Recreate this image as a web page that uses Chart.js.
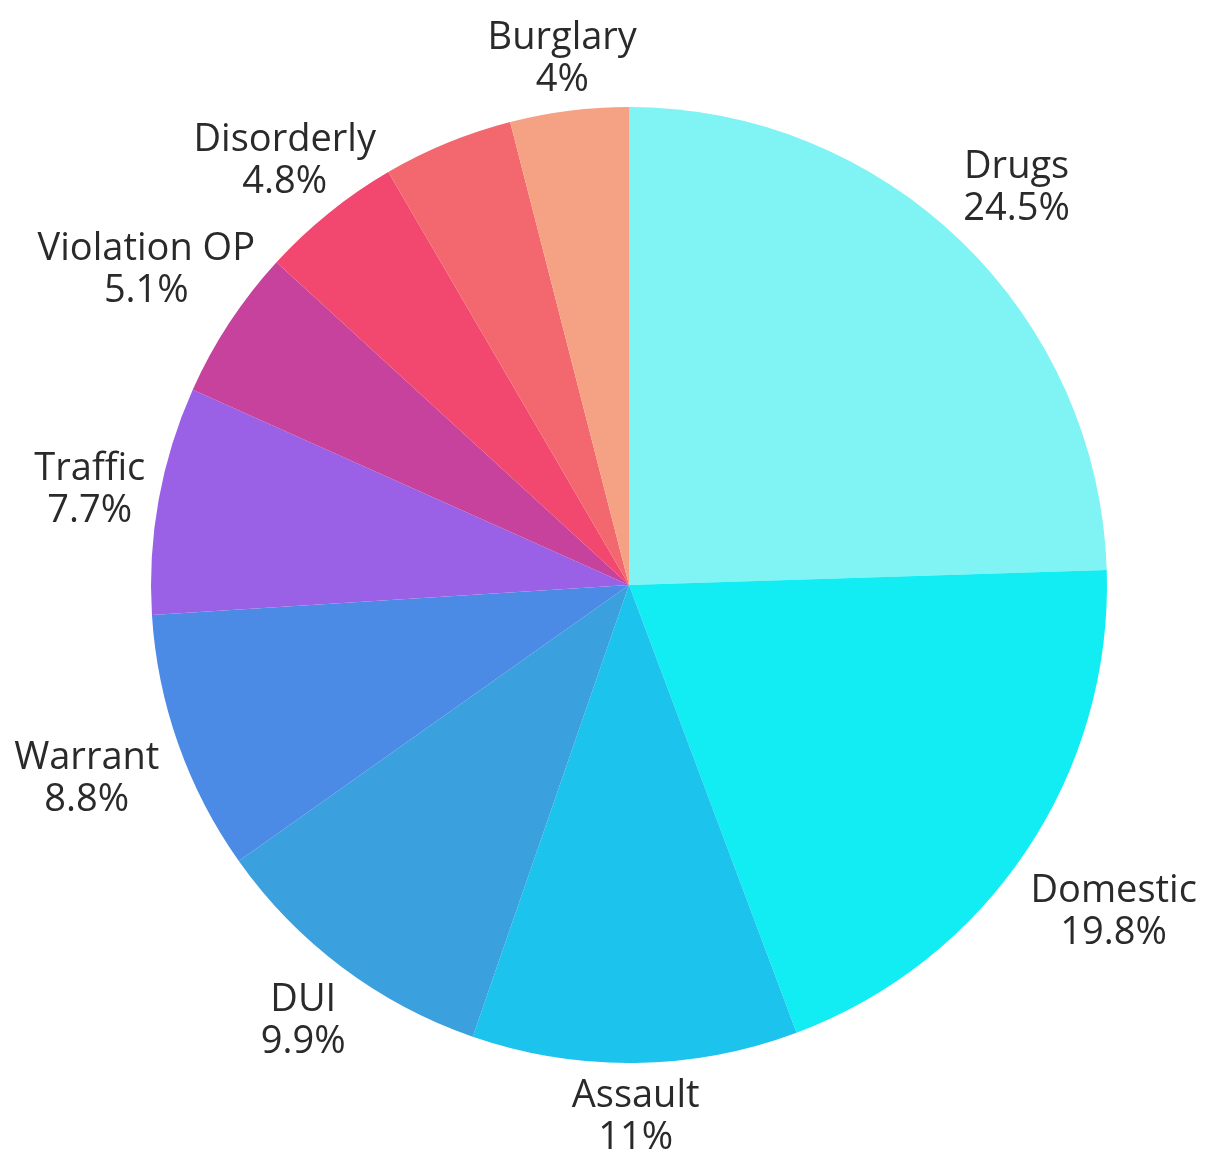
<!DOCTYPE html>
<html>
<head>
<meta charset="utf-8">
<script src="https://cdn.jsdelivr.net/npm/chart.js@4"></script>
<style>
  html, body { margin: 0; padding: 0; background: #ffffff; }
  #wrap { width: 1217px; height: 1164px; }
</style>
</head>
<body>
<div id="wrap"><canvas id="crimeChart" width="1217" height="1164"></canvas></div>
<script>
// Slices clockwise from 12 o'clock; the one between Disorderly and Burglary has no label in the source
const categories = ['Drugs', 'Domestic', 'Assault', 'DUI', 'Warrant', 'Traffic', 'Violation OP', 'Disorderly', '', 'Burglary'];
const shares = [24.5, 19.8, 11, 9.9, 8.8, 7.7, 5.1, 4.8, 4.4, 4];
const shareLabels = ['24.5%', '19.8%', '11%', '9.9%', '8.8%', '7.7%', '5.1%', '4.8%', '', '4%'];
const sliceColors = ['#80f3f4', '#12edf4', '#1cc3ec', '#3aa0de', '#4b8be6', '#9a60e6', '#c6429c', '#f2476f', '#f3686e', '#f5a184'];

const FONT_SIZE = 38;
const LINE_H = 42;
const CAP_H = 27;
const GAP = 17;

// Draw "name / percent" outside each slice, pushed out until every line clears the pie
const outerLabels = {
    id: 'outerLabels',
    afterDatasetsDraw(chart) {
        const ctx = chart.ctx;
        const meta = chart.getDatasetMeta(0);
        ctx.save();
        ctx.font = `400 ${FONT_SIZE}px "Open Sans"`;
        ctx.fillStyle = '#2a2a2a';
        ctx.textAlign = 'center';
        ctx.textBaseline = 'alphabetic';

        meta.data.forEach((arc, i) => {
            if (!categories[i]) return;
            const lines = [categories[i], shareLabels[i]];
            const p = arc.getProps(['x', 'y', 'startAngle', 'endAngle', 'outerRadius'], true);
            const mid = (p.startAngle + p.endAngle) / 2;
            const ux = Math.cos(mid), uy = Math.sin(mid);

            const boxes = lines.map((t, k) => {
                const m = ctx.measureText(t);
                const base = (k - (lines.length - 1) / 2) * LINE_H + CAP_H / 2;
                return { text: t, w: m.width, base, top: base - CAP_H, bottom: base };
            });

            const target = p.outerRadius + GAP;
            let r = 0;
            for (; r < 1000; r += 0.5) {
                const cx = p.x + ux * r, cy = p.y + uy * r;
                const clear = boxes.every(b => {
                    const nx = Math.max(cx - b.w / 2, Math.min(p.x, cx + b.w / 2));
                    const ny = Math.max(cy + b.top, Math.min(p.y, cy + b.bottom));
                    return Math.hypot(nx - p.x, ny - p.y) >= target;
                });
                if (clear) break;
            }
            const cx = p.x + ux * r, cy = p.y + uy * r;
            boxes.forEach(b => ctx.fillText(b.text, cx, cy + b.base));
        });
        ctx.restore();
    }
};

new Chart(document.getElementById('crimeChart'), {
    type: 'pie',
    data: {
        labels: categories,
        datasets: [{
            data: shares,
            backgroundColor: sliceColors,
            borderWidth: 0
        }]
    },
    options: {
        responsive: false,
        animation: false,
        layout: {
            padding: { left: 151, right: 110, top: 107, bottom: 101 }
        },
        plugins: {
            legend: { display: false },
            tooltip: { enabled: false }
        }
    },
    plugins: [outerLabels]
});
</script>
</body>
</html>
